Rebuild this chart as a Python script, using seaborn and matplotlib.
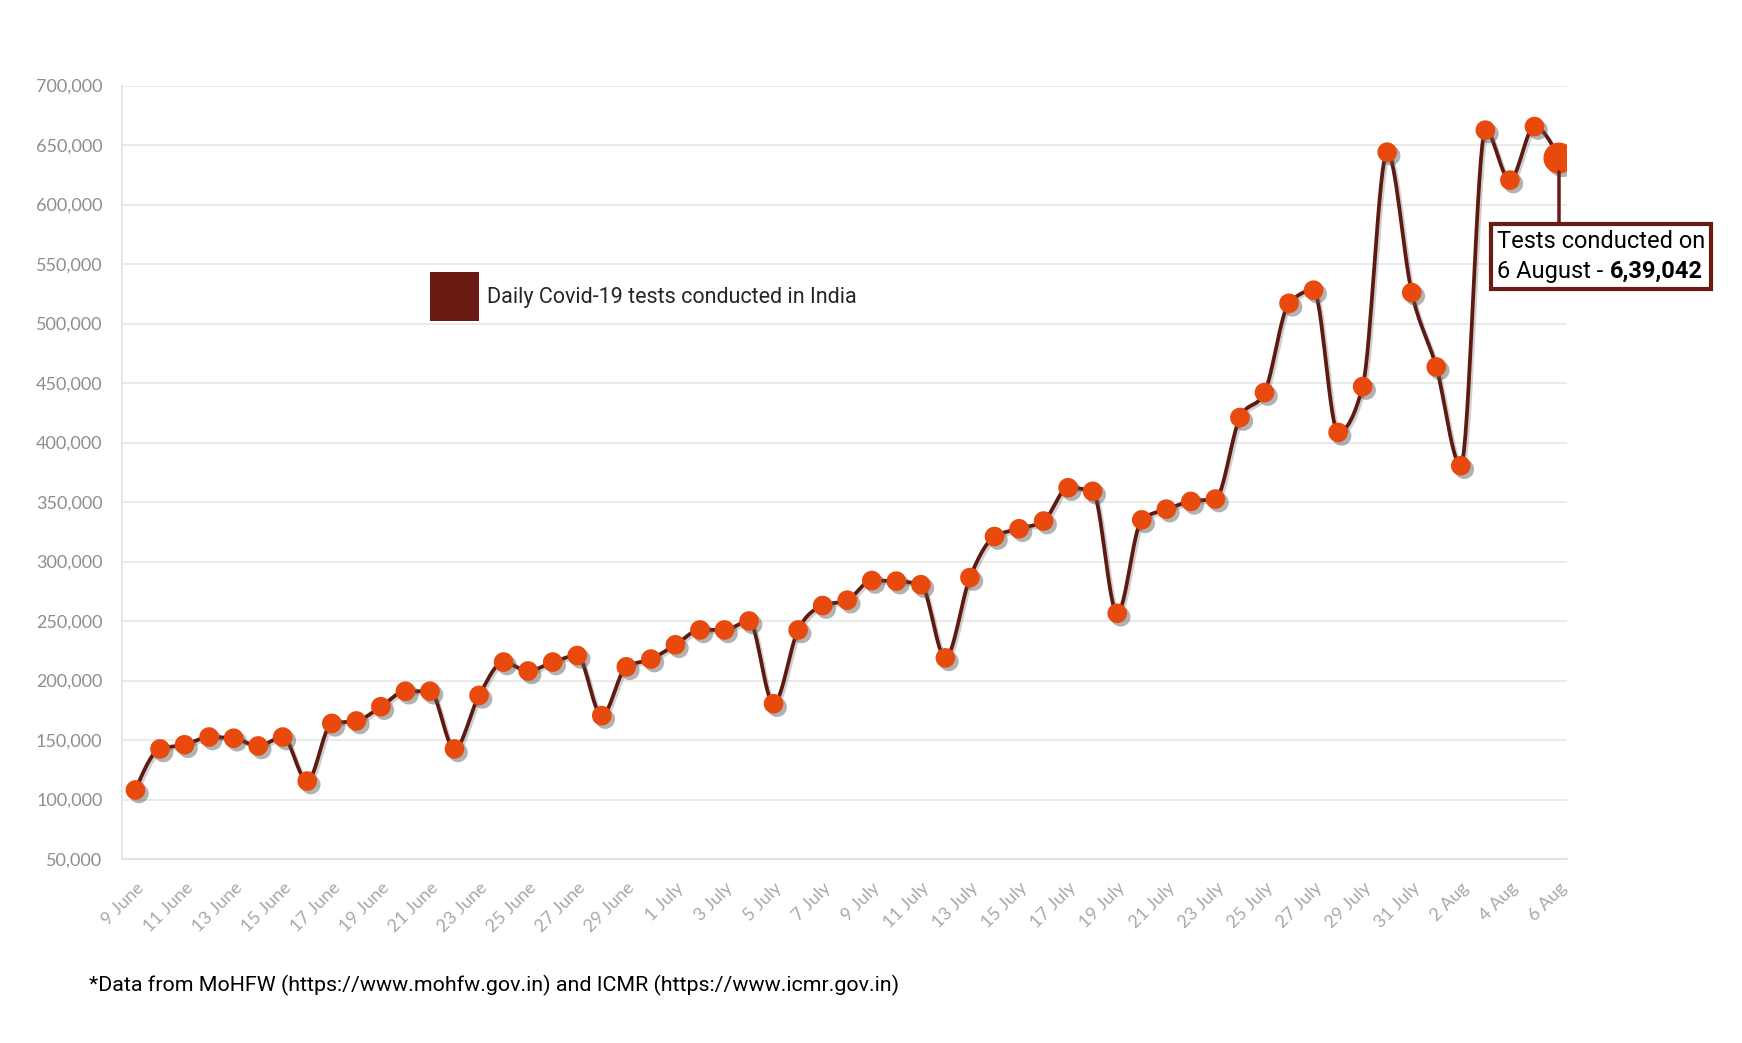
import numpy as np
import pandas as pd
import matplotlib
matplotlib.use("Agg")
import matplotlib.pyplot as plt
import matplotlib.patheffects as pe
from matplotlib.patches import Patch
from matplotlib.offsetbox import TextArea, HPacker, VPacker, AnnotationBbox
import seaborn as sns

# daily tests, 9 June .. 6 August
dates = (
    [f"{d} June" for d in range(9, 31)]
    + [f"{d} July" for d in range(1, 32)]
    + [f"{d} Aug" for d in range(1, 7)]
)
tests = [
    108000, 142500, 146000, 152500, 151500, 145000, 152500, 115500, 164000, 166000,
    178000, 191000, 191000, 142500, 187500, 215500, 208000, 215500, 221000, 170500,
    211500, 218000, 230000, 242500, 242500, 250000, 180500, 242500, 263000, 267500,
    284000, 283500, 280500, 219000, 286500, 321000, 327500, 334000, 362000, 359000,
    256500, 335000, 344000, 350500, 352500, 421000, 442000, 517000, 528000, 408500,
    447000, 644000, 526000, 463500, 380500, 662500, 620500, 665500, 639042,
]
tick_labels = [lab if i % 2 == 0 else "" for i, lab in enumerate(dates)]
yticks = list(range(50000, 700001, 50000))

legend_label = "Daily Covid-19 tests conducted in India"
footnote = "*Data from MoHFW (https://www.mohfw.gov.in) and ICMR (https://www.icmr.gov.in)"

line_col = "#5c1a12"
dot_col = "#e84a0e"
box_col = "#6b1a14"

df = pd.DataFrame({"day": np.arange(len(tests)), "tests": tests})


def monotone_curve(xs, ys, n=16):
    # smooth monotone cubic through the points (like d3 curveMonotoneX)
    xs = np.asarray(xs, float)
    ys = np.asarray(ys, float)
    s = np.diff(ys)
    m = np.zeros_like(ys)
    p = (s[:-1] + s[1:]) / 2
    m[1:-1] = (np.sign(s[:-1]) + np.sign(s[1:])) * np.minimum(
        np.minimum(np.abs(s[:-1]), np.abs(s[1:])), 0.5 * np.abs(p))
    m[0] = (3 * s[0] - m[1]) / 2
    m[-1] = (3 * s[-1] - m[-2]) / 2
    t = np.linspace(0, 1, n, endpoint=False)
    h00 = 2 * t**3 - 3 * t**2 + 1
    h10 = t**3 - 2 * t**2 + t
    h01 = -2 * t**3 + 3 * t**2
    h11 = t**3 - t**2
    cx, cy = [], []
    for i in range(len(xs) - 1):
        cx.append(xs[i] + t)
        cy.append(h00 * ys[i] + h10 * m[i] + h01 * ys[i + 1] + h11 * m[i + 1])
    cx.append([xs[-1]])
    cy.append([ys[-1]])
    return np.concatenate(cx), np.concatenate(cy)


sns.set_style("white")
plt.rcParams["font.family"] = ["Lato", "DejaVu Sans"]

fig = plt.figure(figsize=(17.42, 10.43), dpi=100)
ax = fig.add_axes([0.070, 0.1764, 0.8296, 0.7416])

cx, cy = monotone_curve(df["day"], df["tests"])
ax.plot(cx, cy, color=line_col, lw=2.7, zorder=2,
        path_effects=[pe.SimpleLineShadow(offset=(1.5, -1.5), shadow_color="#777777", alpha=0.35),
                      pe.Normal()])

shadow = [pe.SimplePatchShadow(offset=(2.5, -2.5), shadow_rgbFace="#555555", alpha=0.45), pe.Normal()]
sns.scatterplot(data=df.iloc[:-1], x="day", y="tests", s=200, color=dot_col,
                edgecolor="none", linewidth=0, zorder=3, ax=ax)
ax.collections[-1].set_path_effects(shadow)
sns.scatterplot(data=df.iloc[-1:], x="day", y="tests", s=500, color=dot_col,
                edgecolor="none", linewidth=0, zorder=4, ax=ax)
ax.collections[-1].set_path_effects(shadow)

ax.set_xlim(-0.55, len(tests) - 1 + 0.33)
ax.set_ylim(50000, 700000)
ax.set_yticks(yticks)
ax.set_yticklabels([f"{v:,}" for v in yticks])
ax.set_xticks(df["day"])
ax.set_xticklabels(tick_labels, rotation=45, ha="right", va="top", rotation_mode="anchor")
ax.set_xlabel("")
ax.set_ylabel("")

ax.yaxis.grid(True, color="#e6e6e6", lw=1.2)
ax.set_axisbelow(True)
for side in ["top", "right"]:
    ax.spines[side].set_visible(False)
ax.spines["left"].set_color("#e3e3e3")
ax.spines["bottom"].set_color("#dedede")
ax.spines["left"].set_linewidth(1.2)
ax.spines["bottom"].set_linewidth(1.2)
ax.tick_params(axis="y", length=10, color="#e6e6e6", labelcolor="#8e8e8e", labelsize=13, pad=4)
ax.tick_params(axis="x", length=9, color="#dadada", labelcolor="#a8a8a8", labelsize=13, pad=6)

ax.legend(handles=[Patch(facecolor=box_col, edgecolor="none", label=legend_label)],
          loc="center left", bbox_to_anchor=(0.213, 0.727), frameon=False,
          handlelength=2.28, handleheight=3.13, handletextpad=0.4,
          borderpad=0, borderaxespad=0, prop={"family": "Roboto", "size": 15.5})

tp = dict(fontsize=17, color="black", family="Roboto")
line1 = TextArea("Tests conducted on", textprops=tp)
row = HPacker(children=[TextArea("6 August -", textprops=tp),
                        TextArea("6,39,042", textprops=dict(tp, fontweight="bold"))],
              pad=0, sep=5, align="baseline")
content = VPacker(children=[line1, row], pad=0, sep=5, align="left")
ab = AnnotationBbox(content, xy=(df["day"].iloc[-1], df["tests"].iloc[-1]), xycoords="data",
                    xybox=(0, -52), boxcoords="offset points", box_alignment=(0.30, 1.0),
                    pad=0.42, frameon=True, annotation_clip=False,
                    bboxprops=dict(boxstyle="square,pad=0.42", ec=box_col, lw=3, fc="white"),
                    arrowprops=dict(arrowstyle="-", color=box_col, lw=2.5,
                                    shrinkA=0, shrinkB=10, relpos=(0.30, 1.0)),
                    zorder=5)
ax.add_artist(ab)

fig.text(89 / 1742, 1 - 985 / 1043, footnote, fontsize=15.4, va="center",
         family="Roboto", color="black")

fig.savefig("out.png", dpi=100)
